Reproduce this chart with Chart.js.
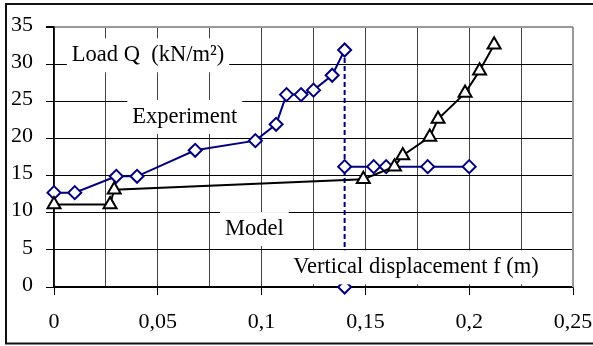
<!DOCTYPE html>
<html>
<head>
<meta charset="utf-8">
<script src="https://cdn.jsdelivr.net/npm/chart.js@4.4.0/dist/chart.umd.min.js"></script>
<style>
	html, body { margin: 0; padding: 0; background: #fff; }
	#wrap { width: 593px; height: 346px; position: relative; }
</style>
</head>
<body>
<div id="wrap"><canvas id="loadChart"></canvas></div>
<script>
"use strict"

// experiment: loading branch
const expX = [0, 0.01, 0.03, 0.04, 0.068, 0.097, 0.107, 0.112, 0.119, 0.125, 0.134, 0.14]
const expY = [12.7, 12.7, 14.9, 14.9, 18.4, 19.7, 21.9, 25.9, 25.9, 26.5, 28.5, 31.9]
// experiment: drop after peak (dashed)
const dropX = [0.14, 0.14]
const dropY = [31.9, 0]
// experiment: second branch
const exp2X = [0.14, 0.154, 0.16, 0.18, 0.2]
const exp2Y = [16.2, 16.2, 16.2, 16.2, 16.2]
// model
const modelX = [0, 0.027, 0.029, 0.149, 0.164, 0.168, 0.181, 0.185, 0.198, 0.205, 0.212]
const modelY = [11.1, 11.1, 13.1, 14.5, 16.2, 17.7, 20.2, 22.6, 26.1, 29.1, 32.6]

const xTickLabels = ["0", "0,05", "0,1", "0,15", "0,2", "0,25"]
const yTickLabels = ["0", "5", "10", "15", "20", "25", "30", "35"]

const serif = '"Times New Roman", "Liberation Serif", serif'
const navy = "#000080"

const toPoints = (xs, ys) => xs.map((x, i) => ({ x: x, y: ys[i] }))

// text boxes, placed in data coordinates
const notes = [
	{ text: "Load Q  (kN/m\u00B2)", x: 0.0453, y: 31.2 },
	{ text: "Experiment", x: 0.063, y: 22.9 },
	{ text: "Model", x: 0.0965, y: 7.8 },
	{ text: "Vertical displacement f (m)", x: 0.1744, y: 2.65 },
]

const notesPlugin = {
	id: "notes",
	afterDatasetsDraw(chart) {
		const ctx = chart.ctx
		const xs = chart.scales.x
		const ys = chart.scales.y
		ctx.save()
		ctx.font = "22.5px " + serif
		ctx.textAlign = "center"
		ctx.textBaseline = "middle"
		notes.forEach((n) => {
			let px = xs.getPixelForValue(n.x)
			let py = ys.getPixelForValue(n.y)
			let w = ctx.measureText(n.text).width + 10
			ctx.fillStyle = "#fff"
			ctx.fillRect(px - w / 2, py - 17, w, 34)
			ctx.fillStyle = "#000"
			ctx.fillText(n.text, px, py)
		})
		ctx.restore()
	},
}

const framePlugin = {
	id: "frame",
	afterDraw(chart) {
		const ctx = chart.ctx
		const a = chart.chartArea
		ctx.save()
		// grey right edge of plot area
		ctx.strokeStyle = "#999"
		ctx.lineWidth = 2
		ctx.beginPath()
		ctx.moveTo(a.right, a.top)
		ctx.lineTo(a.right, a.bottom)
		ctx.stroke()
		// outer frame
		ctx.strokeStyle = "#111"
		ctx.lineWidth = 2
		ctx.strokeRect(6, 4, 620, 339.5)
		ctx.restore()
	},
}

let ctx = document.getElementById("loadChart").getContext("2d")

let chart = new Chart(ctx, {
	type: "scatter",
	data: {
		datasets: [
			{
				label: "Model",
				data: toPoints(modelX, modelY),
				showLine: true,
				borderColor: "#000",
				borderWidth: 2,
				pointStyle: "triangle",
				pointRadius: 7.5,
				pointBackgroundColor: "#fff",
				pointBorderColor: "#000",
				pointBorderWidth: 2,
				clip: false,
				order: 1,
			},
			{
				label: "Experiment",
				data: toPoints(expX, expY),
				showLine: true,
				borderColor: navy,
				borderWidth: 2,
				pointStyle: "rectRot",
				pointRadius: 6.5,
				pointBackgroundColor: "#fff",
				pointBorderColor: navy,
				pointBorderWidth: 2,
				clip: false,
				order: 2,
			},
			{
				label: "Drop",
				data: toPoints(dropX, dropY),
				showLine: true,
				borderColor: navy,
				borderWidth: 2,
				borderDash: [5, 3],
				pointStyle: "rectRot",
				pointRadius: [0, 6.5],
				pointBackgroundColor: "#fff",
				pointBorderColor: navy,
				pointBorderWidth: 2,
				clip: false,
				order: 3,
			},
			{
				label: "Experiment 2",
				data: toPoints(exp2X, exp2Y),
				showLine: true,
				borderColor: navy,
				borderWidth: 2,
				pointStyle: "rectRot",
				pointRadius: 6.5,
				pointBackgroundColor: "#fff",
				pointBorderColor: navy,
				pointBorderWidth: 2,
				clip: false,
				order: 2,
			},
		],
	},
	options: {
		responsive: true,
		maintainAspectRatio: false,
		animation: false,
		events: [],
		layout: { padding: { top: 27, right: 0, left: 0, bottom: 0 } },
		plugins: {
			legend: { display: false },
			tooltip: { enabled: false },
		},
		scales: {
			x: {
				type: "linear",
				min: 0,
				max: 0.25,
				afterBuildTicks: (axis) => {
					axis.ticks = []
					for (let i = 0; i <= 10; i++) axis.ticks.push({ value: i * 0.025 })
				},
				afterFit: (axis) => {
					axis.height = 59
					axis.paddingLeft = 0
					axis.paddingRight = 20
				},
				border: { display: true, color: "#000", width: 1.5 },
				grid: {
					color: (c) => (c.index === 10 ? "rgba(0,0,0,0)" : "#444"),
					lineWidth: 1,
					tickLength: 8,
					tickColor: (c) => (c.index % 2 ? "rgba(0,0,0,0)" : "#000"),
				},
				ticks: {
					autoSkip: false,
					maxRotation: 0,
					padding: 14,
					color: "#000",
					font: { family: serif, size: 22 },
					callback: (value, index) => (index % 2 ? "" : xTickLabels[index / 2]),
				},
			},
			y: {
				type: "linear",
				min: 0,
				max: 35,
				afterFit: (axis) => { axis.width = 54 },
				border: { display: true, color: "#000", width: 1.5 },
				grid: {
					color: (c) => (c.index === 7 ? "#999" : "#000"),
					lineWidth: (c) => (c.index === 7 ? 2 : 1),
					tickLength: 8,
					tickColor: "#000",
				},
				ticks: {
					stepSize: 5,
					padding: 13,
					labelOffset: -2,
					color: "#000",
					font: { family: serif, size: 22 },
					callback: (value, index) => yTickLabels[index],
				},
			},
		},
	},
	plugins: [notesPlugin, framePlugin],
})
</script>
</body>
</html>
